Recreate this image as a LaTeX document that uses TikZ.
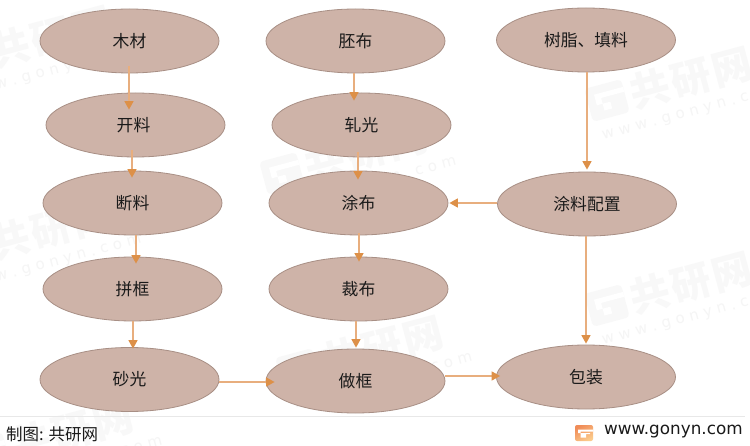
\documentclass[tikz,border=0pt]{standalone}
\usepackage{fontspec}
\setmainfont{Noto Sans CJK SC}
\newfontfamily\latinfont{DejaVu Sans}
\usetikzlibrary{shapes.geometric,arrows.meta}
\definecolor{ellfill}{HTML}{CEB3A8}
\definecolor{elldraw}{HTML}{A88F85}
\definecolor{linkline}{HTML}{E8AE7E}
\definecolor{linktip}{HTML}{DD9048}
\definecolor{wmark}{HTML}{F8F8F8}
\definecolor{wmarktext}{HTML}{F5F5F5}
\definecolor{rulegray}{HTML}{E8E8E8}
\definecolor{inktext}{HTML}{1A1A1A}
\definecolor{logotop}{HTML}{F08C58}
\definecolor{logobot}{HTML}{FBCB8C}
\tikzset{
  procnode/.style={ellipse,draw=elldraw,fill=ellfill,line width=0.8pt,minimum width=179pt,minimum height=64pt,inner sep=0pt,text=inktext,font=\fontsize{16.8}{16.8}\selectfont},
  link/.style={draw=linkline,line width=1.5pt,-{Triangle[length=8.5pt,width=9pt,color=linktip,fill=linktip]}},
  wmtitle/.style={rotate=15,text=wmark,font=\fontsize{40}{40}\selectfont\bfseries,inner sep=0pt},
  wmurl/.style={rotate=15,text=wmarktext,font=\latinfont\fontsize{15}{15}\selectfont,inner sep=0pt},
  footnote/.style={text=inktext,inner sep=0pt},
}
\newcommand{\wsp}{\hspace{5pt}}
\newcommand{\wmblock}[3]{%
  \begin{scope}[shift={(#1,#2)},rotate=15]
    \fill[wmark,rounded corners=4pt] (-106,-17) rectangle (-68,17);
    \fill[white] (-98,-9) -- (-68,-9) -- (-68,-4) -- (-92,-4) -- (-92,9) -- (-84,9) -- (-84,2) -- (-98,2) -- cycle;
  \end{scope}
  \node[wmtitle] (#3t) at (#1,#2) {共\hspace{2.5pt}研\hspace{2.5pt}网};
  \node[wmurl] (#3u) at ([shift={(1,35)}]#1,#2) {w\wsp w\wsp w\wsp .\wsp g\wsp o\wsp n\wsp y\wsp n\wsp .\wsp c\wsp o\wsp m};
}
\begin{document}
\begin{tikzpicture}[x=1pt,y=-1pt]
\useasboundingbox (0,0) rectangle (750,446);
\fill[white] (0,0) rectangle (750,446);
% watermarks
\wmblock{691}{78}{wa}
\wmblock{691}{283}{wb}
\wmblock{366}{151}{wc}
\wmblock{382}{347}{wd}
\wmblock{51}{37}{we}
\wmblock{51}{229}{wf}
\wmblock{72}{431}{wg}
% footer rule
\draw[rulegray,line width=0.9pt] (0,416) -- (745,416);
% process nodes
\node[procnode] (mucai) at (129.5,41) {木材};
\node[procnode] (kailiao) at (135.5,125) {\hspace{-4pt}开料};
\node[procnode] (duanliao) at (132.5,203) {断料};
\node[procnode] (pinkuang) at (132.5,289) {拼框};
\node[procnode] (shaguang) at (129.5,379.5) {砂光};
\node[procnode] (peibu) at (355.5,41) {胚布};
\node[procnode] (yaguang) at (361.5,125) {轧光};
\node[procnode] (tubu) at (358.5,203) {涂布};
\node[procnode] (caibu) at (358.5,289) {裁布};
\node[procnode] (zuokuang) at (355.5,381) {做框};
\node[procnode] (shuzhi) at (586,40) {树脂、填料};
\node[procnode] (peizhi) at (587,204) {涂料配置};
\node[procnode] (baozhuang) at (586,377) {包装};
% connectors
\draw[link] ([shift={(-0.5,-7)}]mucai.south) -- ([shift={(-6.5,17)}]kailiao.north);
\draw[link] ([shift={(-3.5,-7)}]kailiao.south) -- ([shift={(-0.5,7)}]duanliao.north);
\draw[link] ([shift={(3.5,0)}]duanliao.south) -- ([shift={(3.5,7)}]pinkuang.north);
\draw[link] ([shift={(0.5,0)}]pinkuang.south) -- ([shift={(3.5,1.5)}]shaguang.north);
\draw[link] ([shift={(0,2.5)}]shaguang.east) -- ([shift={(9,1)}]zuokuang.west);
\draw[link] ([shift={(-1.5,0)}]peibu.south) -- ([shift={(-7.5,8)}]yaguang.north);
\draw[link] ([shift={(-3.5,-5)}]yaguang.south) -- ([shift={(-0.5,9)}]tubu.north);
\draw[link] ([shift={(0.5,-2)}]tubu.south) -- ([shift={(0.5,5)}]caibu.north);
\draw[link] ([shift={(-2.5,0)}]caibu.south) -- ([shift={(0.5,-1)}]zuokuang.north);
\draw[link] ([shift={(0,-5)}]zuokuang.east) -- ([shift={(4,-1)}]baozhuang.west);
\draw[link] ([shift={(1,0)}]shuzhi.south) -- ([shift={(0,-2)}]peizhi.north);
\draw[link] ([shift={(0,-1)}]peizhi.west) -- ([shift={(1,0)}]tubu.east);
\draw[link] ([shift={(-1,0)}]peizhi.south) -- ([shift={(0,-1)}]baozhuang.north);
% footer
\node[footnote,anchor=west,font=\fontsize{16.5}{16.5}\selectfont] (credit) at (6,434) {制图: 共研网};
\node[footnote,anchor=west,font=\latinfont\fontsize{16.8}{16.8}\selectfont] (site) at (604,432) {www.gonyn.com};
\shade[top color=logotop,bottom color=logobot,shading angle=30,rounded corners=2pt] (575,425) rectangle (593,441);
\fill[white] (578,429.5) -- (593,429.5) -- (593,431.5) -- (580.5,431.5) -- (580.5,437.5) -- (586,437.5) -- (586,434) -- (590,434) -- (590,433) -- (578,433) -- cycle;
\end{tikzpicture}
\end{document}
